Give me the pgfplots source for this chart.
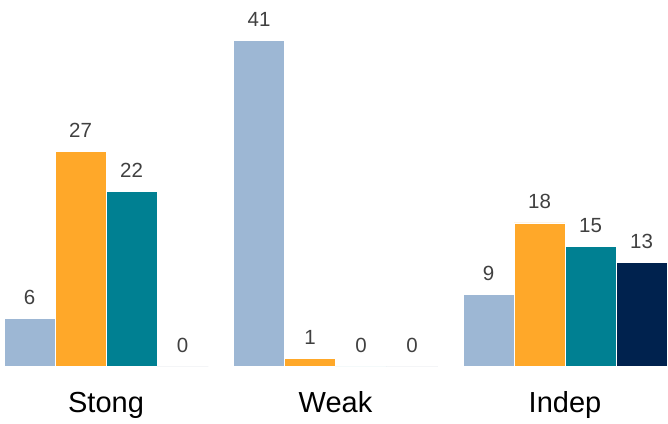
\documentclass[border=0pt]{standalone}
\usepackage{pgfplots}
\pgfplotsset{compat=1.18}
\usepackage{fontspec}
\setmainfont{Liberation Sans}

\definecolor{cLight}{HTML}{9DB7D4}
\definecolor{cOrange}{HTML}{FFA829}
\definecolor{cTeal}{HTML}{008092}
\definecolor{cNavy}{HTML}{00224E}
\definecolor{cLabel}{HTML}{404040}

\begin{document}
\begin{tikzpicture}
\begin{axis}[
    at={(0,0)}, anchor=south west,
    scale only axis,
    width=668bp, height=366bp,
    xmin=-0.4619, xmax=2.4488,
    ymin=0, ymax=46.04,
    clip=false,
    ybar=0pt,
    bar width=51bp,
    axis line style={draw=none},
    tick style={draw=none},
    major tick length=0,
    ytick=\empty,
    xtick={0,1,2},
    xticklabels={Stong,Weak,Indep},
    xticklabel style={anchor=base, yshift=-46.5bp,
        font=\fontsize{29bp}{33bp}\selectfont, text=black},
    /pgf/number format/assume math mode=true,
    nodes near coords,
    nodes near coords style={anchor=base, inner sep=0pt, yshift=14bp,
        font=\fontsize{20.5bp}{24bp}\selectfont, text=cLabel},
    every axis plot/.append style={draw=white, line width=0.6bp},
]
\addplot[fill=cLight]  coordinates {(0,6) (1,41) (2,9)};
\addplot[fill=cOrange] coordinates {(0,27) (1,1) (2,18)};
\addplot[fill=cTeal]   coordinates {(0,22) (1,0) (2,15)};
\addplot[fill=cNavy]   coordinates {(0,0) (1,0) (2,13)};
\end{axis}
\pgfresetboundingbox
\path (0,-58bp) rectangle (668bp,366bp);
\end{tikzpicture}
\end{document}
